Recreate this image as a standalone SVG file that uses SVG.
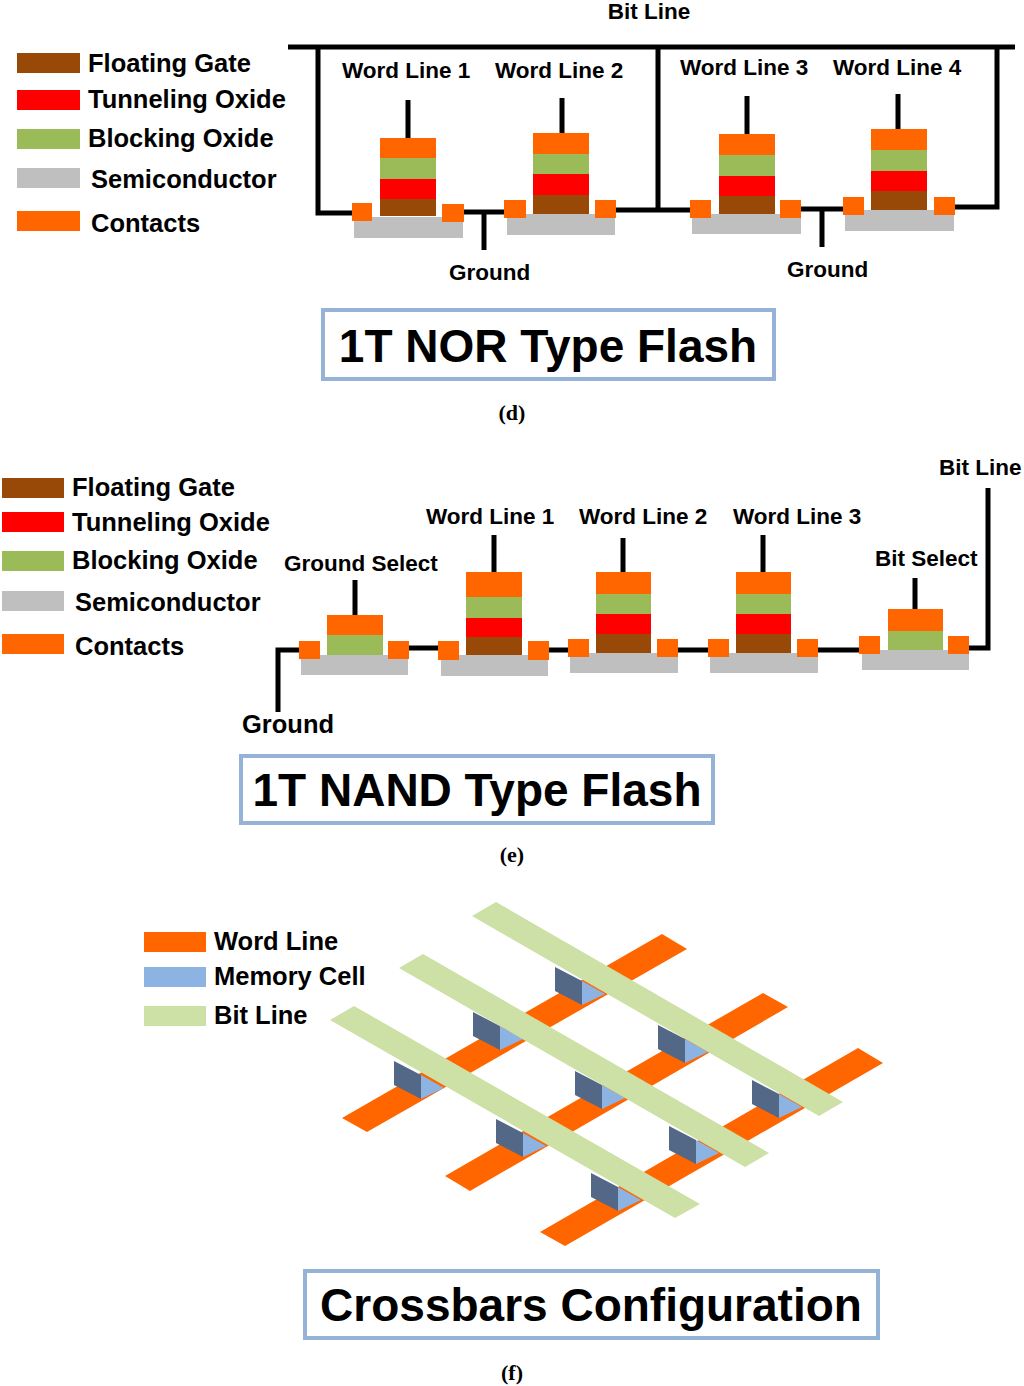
<svg xmlns="http://www.w3.org/2000/svg" width="1024" height="1386" viewBox="0 0 1024 1386">
<style>
text{font-family:"Liberation Sans",Arial,sans-serif;font-weight:bold;fill:#000}
.l{font-size:25.5px}.s{font-size:22.5px}
.cap{font-family:"Liberation Serif","Times New Roman",serif;font-size:22px}
.fg{fill:#984807}.to{fill:#FF0000}.bo{fill:#9BBB59}.se{fill:#BFBFBF}.co{fill:#FF6600}
.w{fill:none;stroke:#000;stroke-width:5}
.box{fill:#fff;stroke:#95B3D7;stroke-width:4}
.wl{fill:#FF6600}.bl{fill:#CDE0A5}.dk{fill:#536886}.lt{fill:#8DB3E2}
</style>
<rect width="1024" height="1386" fill="#fff"/>
<g id="legend-d">
<rect class="fg" x="17" y="53" width="63" height="20"/><text class="l" x="88" y="72">Floating Gate</text>
<rect class="to" x="17" y="90" width="63" height="20"/><text class="l" x="88" y="108">Tunneling Oxide</text>
<rect class="bo" x="17" y="129" width="63" height="20"/><text class="l" x="88" y="147">Blocking Oxide</text>
<rect class="se" x="17" y="168" width="63" height="20"/><text class="l" x="91" y="188">Semiconductor</text>
<rect class="co" x="17" y="211" width="63" height="20"/><text class="l" x="91" y="232">Contacts</text>
</g>
<g id="connectors">
<polyline class="w" points="288,47 1015,47"/>
<polyline class="w" points="318,47 318,213 354,213"/>
<polyline class="w" points="658,47 658,210"/>
<polyline class="w" points="997,47 997,207 950,207"/>
<polyline class="w" points="462,212 506,212"/><polyline class="w" points="484,212 484,250"/>
<polyline class="w" points="612,210 692,210"/>
<polyline class="w" points="798,209 845,209"/><polyline class="w" points="822,209 822,247"/>
<line class="w" x1="408" y1="100" x2="408" y2="138"/>
<line class="w" x1="562" y1="98" x2="562" y2="133"/>
<line class="w" x1="747" y1="96" x2="747" y2="134"/>
<line class="w" x1="898" y1="94" x2="898" y2="129"/>
<polyline class="w" points="301,650 278,650 278,712"/>
<polyline class="w" points="405,648 440,648"/>
<polyline class="w" points="546,650 570,650"/>
<polyline class="w" points="676,650 710,650"/>
<polyline class="w" points="816,650 861,650"/>
<polyline class="w" points="966,648 988,648 988,488"/>
<line class="w" x1="355" y1="580" x2="355" y2="615"/>
<line class="w" x1="494" y1="535" x2="494" y2="572"/>
<line class="w" x1="623" y1="538" x2="623" y2="572"/>
<line class="w" x1="763" y1="535" x2="763" y2="572"/>
<line class="w" x1="915" y1="578" x2="915" y2="609"/>
</g>
<g id="nor-cell1">
<rect class="se" x="354" y="217" width="109" height="21"/>
<rect class="co" x="380" y="138" width="56" height="20"/><rect class="bo" x="380" y="158" width="56" height="21"/><rect class="to" x="380" y="179" width="56" height="20"/><rect class="fg" x="380" y="199" width="56" height="17"/>
<rect class="co" x="352" y="203" width="20" height="18"/><rect class="co" x="442" y="204" width="22" height="18"/>
</g>
<g id="nor-cell2">
<rect class="se" x="507" y="214" width="108" height="21"/>
<rect class="co" x="533" y="133" width="56" height="21"/><rect class="bo" x="533" y="154" width="56" height="20"/><rect class="to" x="533" y="174" width="56" height="21"/><rect class="fg" x="533" y="195" width="56" height="19"/>
<rect class="co" x="504" y="200" width="22" height="18"/><rect class="co" x="595" y="200" width="21" height="18"/>
</g>
<g id="nor-cell3">
<rect class="se" x="692" y="214" width="109" height="20"/>
<rect class="co" x="719" y="134" width="56" height="21"/><rect class="bo" x="719" y="155" width="56" height="21"/><rect class="to" x="719" y="176" width="56" height="20"/><rect class="fg" x="719" y="196" width="56" height="18"/>
<rect class="co" x="690" y="200" width="21" height="18"/><rect class="co" x="780" y="200" width="21" height="18"/>
</g>
<g id="nor-cell4">
<rect class="se" x="845" y="210" width="109" height="21"/>
<rect class="co" x="871" y="129" width="56" height="21"/><rect class="bo" x="871" y="150" width="56" height="21"/><rect class="to" x="871" y="171" width="56" height="20"/><rect class="fg" x="871" y="191" width="56" height="19"/>
<rect class="co" x="843" y="197" width="21" height="18"/><rect class="co" x="934" y="197" width="21" height="18"/>
</g>
<g id="nor-labels">
<text class="s" x="649" y="19" text-anchor="middle">Bit Line</text>
<text class="s" x="342" y="78">Word Line 1</text><text class="s" x="495" y="78">Word Line 2</text>
<text class="s" x="680" y="75">Word Line 3</text><text class="s" x="833" y="75">Word Line 4</text>
<text class="s" x="449" y="280">Ground</text><text class="s" x="787" y="277">Ground</text>
</g>
<g id="title-d"><rect class="box" x="323" y="310" width="451" height="69"/><text x="548" y="362" font-size="46" text-anchor="middle">1T NOR Type Flash</text></g>
<text class="cap" x="512" y="420" text-anchor="middle">(d)</text>
<g id="legend-e">
<rect class="fg" x="2" y="478" width="62" height="20"/><text class="l" x="72" y="496">Floating Gate</text>
<rect class="to" x="2" y="512" width="62" height="20"/><text class="l" x="72" y="531">Tunneling Oxide</text>
<rect class="bo" x="2" y="551" width="62" height="20"/><text class="l" x="72" y="569">Blocking Oxide</text>
<rect class="se" x="2" y="591" width="62" height="20"/><text class="l" x="75" y="611">Semiconductor</text>
<rect class="co" x="2" y="634" width="62" height="20"/><text class="l" x="75" y="655">Contacts</text>
</g>
<g id="nand-gs">
<rect class="se" x="301" y="655" width="107" height="20"/>
<rect class="co" x="327" y="615" width="56" height="20"/><rect class="bo" x="327" y="635" width="56" height="20"/>
<rect class="co" x="299" y="641" width="21" height="18"/><rect class="co" x="388" y="641" width="21" height="18"/>
</g>
<g id="nand-wl1">
<rect class="se" x="441" y="655" width="107" height="21"/>
<rect class="co" x="466" y="572" width="56" height="25"/><rect class="bo" x="466" y="597" width="56" height="21"/><rect class="to" x="466" y="618" width="56" height="19"/><rect class="fg" x="466" y="637" width="56" height="18"/>
<rect class="co" x="438" y="641" width="21" height="19"/><rect class="co" x="528" y="641" width="21" height="19"/>
</g>
<g id="nand-wl2">
<rect class="se" x="570" y="653" width="108" height="20"/>
<rect class="co" x="596" y="572" width="55" height="22"/><rect class="bo" x="596" y="594" width="55" height="20"/><rect class="to" x="596" y="614" width="55" height="20"/><rect class="fg" x="596" y="634" width="55" height="19"/>
<rect class="co" x="568" y="639" width="21" height="18"/><rect class="co" x="657" y="639" width="21" height="18"/>
</g>
<g id="nand-wl3">
<rect class="se" x="710" y="653" width="108" height="20"/>
<rect class="co" x="736" y="572" width="55" height="22"/><rect class="bo" x="736" y="594" width="55" height="20"/><rect class="to" x="736" y="614" width="55" height="20"/><rect class="fg" x="736" y="634" width="55" height="19"/>
<rect class="co" x="708" y="639" width="21" height="18"/><rect class="co" x="797" y="639" width="21" height="18"/>
</g>
<g id="nand-bs">
<rect class="se" x="862" y="650" width="107" height="20"/>
<rect class="co" x="888" y="609" width="55" height="22"/><rect class="bo" x="888" y="631" width="55" height="19"/>
<rect class="co" x="859" y="636" width="21" height="18"/><rect class="co" x="948" y="636" width="21" height="18"/>
</g>
<g id="nand-labels">
<text class="s" x="284" y="571">Ground Select</text>
<text class="s" x="426" y="524">Word Line 1</text><text class="s" x="579" y="524">Word Line 2</text><text class="s" x="733" y="524">Word Line 3</text>
<text class="s" x="875" y="566">Bit Select</text><text class="s" x="939" y="475">Bit Line</text>
<text class="l" x="242" y="733">Ground</text>
</g>
<g id="title-e"><rect class="box" x="241" y="756" width="472" height="67"/><text x="477" y="806" font-size="46" text-anchor="middle">1T NAND Type Flash</text></g>
<text class="cap" x="512" y="862" text-anchor="middle">(e)</text>
<g id="legend-f">
<rect class="wl" x="144" y="932" width="62" height="20"/><text class="l" x="214" y="950">Word Line</text>
<rect class="lt" x="144" y="967" width="62" height="20"/><text class="l" x="214" y="985">Memory Cell</text>
<rect class="bl" x="144" y="1006" width="62" height="20"/><text class="l" x="214" y="1024">Bit Line</text>
</g>
<g id="word-lines">
<polygon class="wl" points="342,1118 662,934 687,949 367,1132"/>
<polygon class="wl" points="445,1176 763,993 788,1007 470,1191"/>
<polygon class="wl" points="540,1232 858,1048 883,1063 565,1246"/>
</g>
<g id="memory-cells">
<g transform="translate(555,967)"><polygon class="dk" points="0,0 27,14 27,38 0,24"/><polygon class="lt" points="27,14 50,27 27,38"/></g>
<g transform="translate(473,1012)"><polygon class="dk" points="0,0 27,14 27,38 0,24"/><polygon class="lt" points="27,14 50,27 27,38"/></g>
<g transform="translate(394,1061)"><polygon class="dk" points="0,0 27,14 27,38 0,24"/><polygon class="lt" points="27,14 50,27 27,38"/></g>
<g transform="translate(658,1025)"><polygon class="dk" points="0,0 27,14 27,38 0,24"/><polygon class="lt" points="27,14 50,27 27,38"/></g>
<g transform="translate(575,1071)"><polygon class="dk" points="0,0 27,14 27,38 0,24"/><polygon class="lt" points="27,14 50,27 27,38"/></g>
<g transform="translate(496,1119)"><polygon class="dk" points="0,0 27,14 27,38 0,24"/><polygon class="lt" points="27,14 50,27 27,38"/></g>
<g transform="translate(752,1080)"><polygon class="dk" points="0,0 27,14 27,38 0,24"/><polygon class="lt" points="27,14 50,27 27,38"/></g>
<g transform="translate(669,1126)"><polygon class="dk" points="0,0 27,14 27,38 0,24"/><polygon class="lt" points="27,14 50,27 27,38"/></g>
<g transform="translate(591,1173)"><polygon class="dk" points="0,0 27,14 27,38 0,24"/><polygon class="lt" points="27,14 50,27 27,38"/></g>
</g>
<g id="bit-lines">
<polygon class="bl" points="472,916 496,902 843,1102 819,1116"/>
<polygon class="bl" points="399,968 423,954 769,1153 745,1167"/>
<polygon class="bl" points="330,1020 354,1006 700,1204 675,1218"/>
</g>
<g id="title-f"><rect class="box" x="305" y="1271" width="573" height="67"/><text x="591" y="1321" font-size="46" text-anchor="middle">Crossbars Configuration</text></g>
<text class="cap" x="512" y="1380" text-anchor="middle">(f)</text>
</svg>
